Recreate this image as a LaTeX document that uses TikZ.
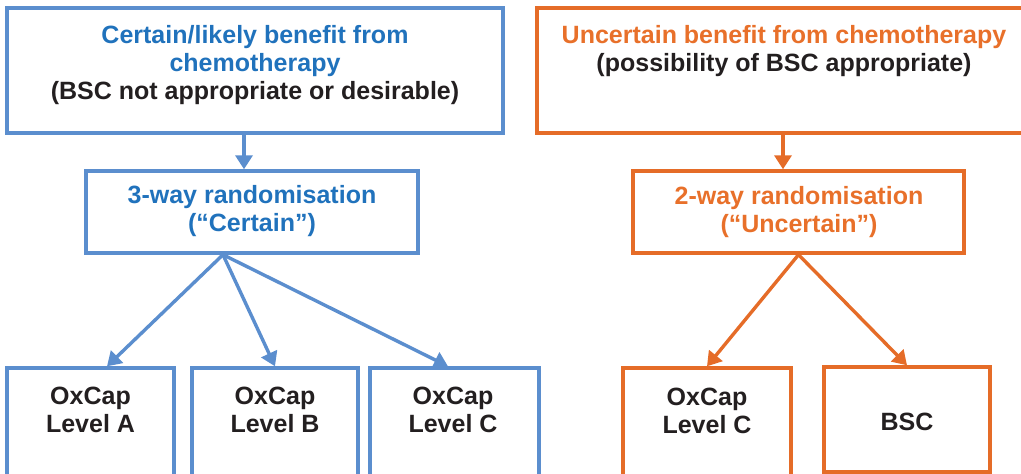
\documentclass[tikz,border=0pt]{standalone}
\usepackage{fontspec}
\setmainfont{Liberation Sans}
\usetikzlibrary{arrows.meta}
\definecolor{bline}{RGB}{91,142,206}
\definecolor{btext}{RGB}{32,114,188}
\definecolor{oline}{RGB}{229,108,40}
\definecolor{otext}{RGB}{232,112,42}
\definecolor{dtext}{RGB}{35,31,32}
\tikzset{
  boxshape/.style={draw, rectangle, inner sep=0pt, line width=3.4pt},
  bbox/.style={boxshape, draw=bline},
  obox/.style={boxshape, draw=oline},
  lbl/.style={anchor=north, inner sep=0pt, align=center,
    font=\fontsize{25}{28.3}\selectfont\bfseries, text=dtext},
  barr/.style={draw=bline, line width=3.4pt, -{Triangle[length=14pt,width=17pt]}},
  oarr/.style={draw=oline, line width=3.4pt, -{Triangle[length=14pt,width=17pt]}},
}
\newcommand{\hs}{\rule{0pt}{20pt}}
\begin{document}
\begin{tikzpicture}[x=1pt,y=-1pt]
\useasboundingbox (0,0) rectangle (1021,474);
\clip (0,0) rectangle (1021,474);
% boxes
\node[bbox, minimum width=496pt, minimum height=125pt] (tl) at (255,70.5) {};
\node[obox, minimum width=494pt, minimum height=125pt] (tr) at (784,70.5) {};
\node[bbox, minimum width=332pt, minimum height=82pt] (ml) at (252,212) {};
\node[obox, minimum width=331pt, minimum height=82pt] (mr) at (798.5,212) {};
\node[bbox, minimum width=167pt, minimum height=130pt] (a) at (90.5,433) {};
\node[bbox, minimum width=166pt, minimum height=130pt] (b) at (275,433) {};
\node[bbox, minimum width=169pt, minimum height=130pt] (c) at (454.5,433) {};
\node[obox, minimum width=168pt, minimum height=130pt] (oc) at (707,433) {};
\node[obox, minimum width=166pt, minimum height=105pt] (bsc) at (907,419.5) {};
% texts
\node[lbl] (tlT) at (255,23) {\hs\textcolor{btext}{Certain/likely benefit from}\\\textcolor{btext}{chemotherapy}\\(BSC not appropriate or desirable)};
\node[lbl] (trT) at (784,23) {\hs\textcolor{otext}{Uncertain benefit from chemotherapy}\\(possibility of BSC appropriate)};
\node[lbl, text=btext] (mlT) at (252,183) {\hs 3-way randomisation\\(“Certain”)};
\node[lbl, text=otext] (mrT) at (799,184) {\hs 2-way randomisation\\(“Uncertain”)};
\node[lbl] (aT) at (90.5,384) {\hs OxCap\\Level A};
\node[lbl] (bT) at (275,384) {\hs OxCap\\Level B};
\node[lbl] (cT) at (453,384) {\hs OxCap\\Level C};
\node[lbl] (ocT) at (707,385) {\hs OxCap\\Level C};
\node[lbl] (bscT) at (907,410) {\hs BSC};
% arrows
\draw[barr] ([xshift=-8pt]ml.north |- tl.south) -- ([xshift=-8pt]ml.north);
\draw[oarr] ([xshift=-15.5pt]mr.north |- tr.south) -- ([xshift=-15.5pt]mr.north);
\draw[barr] ([xshift=-29pt]ml.south) -- ([xshift=16.5pt]a.north);
\draw[barr] ([xshift=-29pt]ml.south) -- (b.north);
\draw[barr] ([xshift=-29pt]ml.south) -- ([xshift=-6.5pt]c.north);
\draw[oarr] (mr.south) -- (oc.north);
\draw[oarr] (mr.south) -- (bsc.north);
\end{tikzpicture}
\end{document}
